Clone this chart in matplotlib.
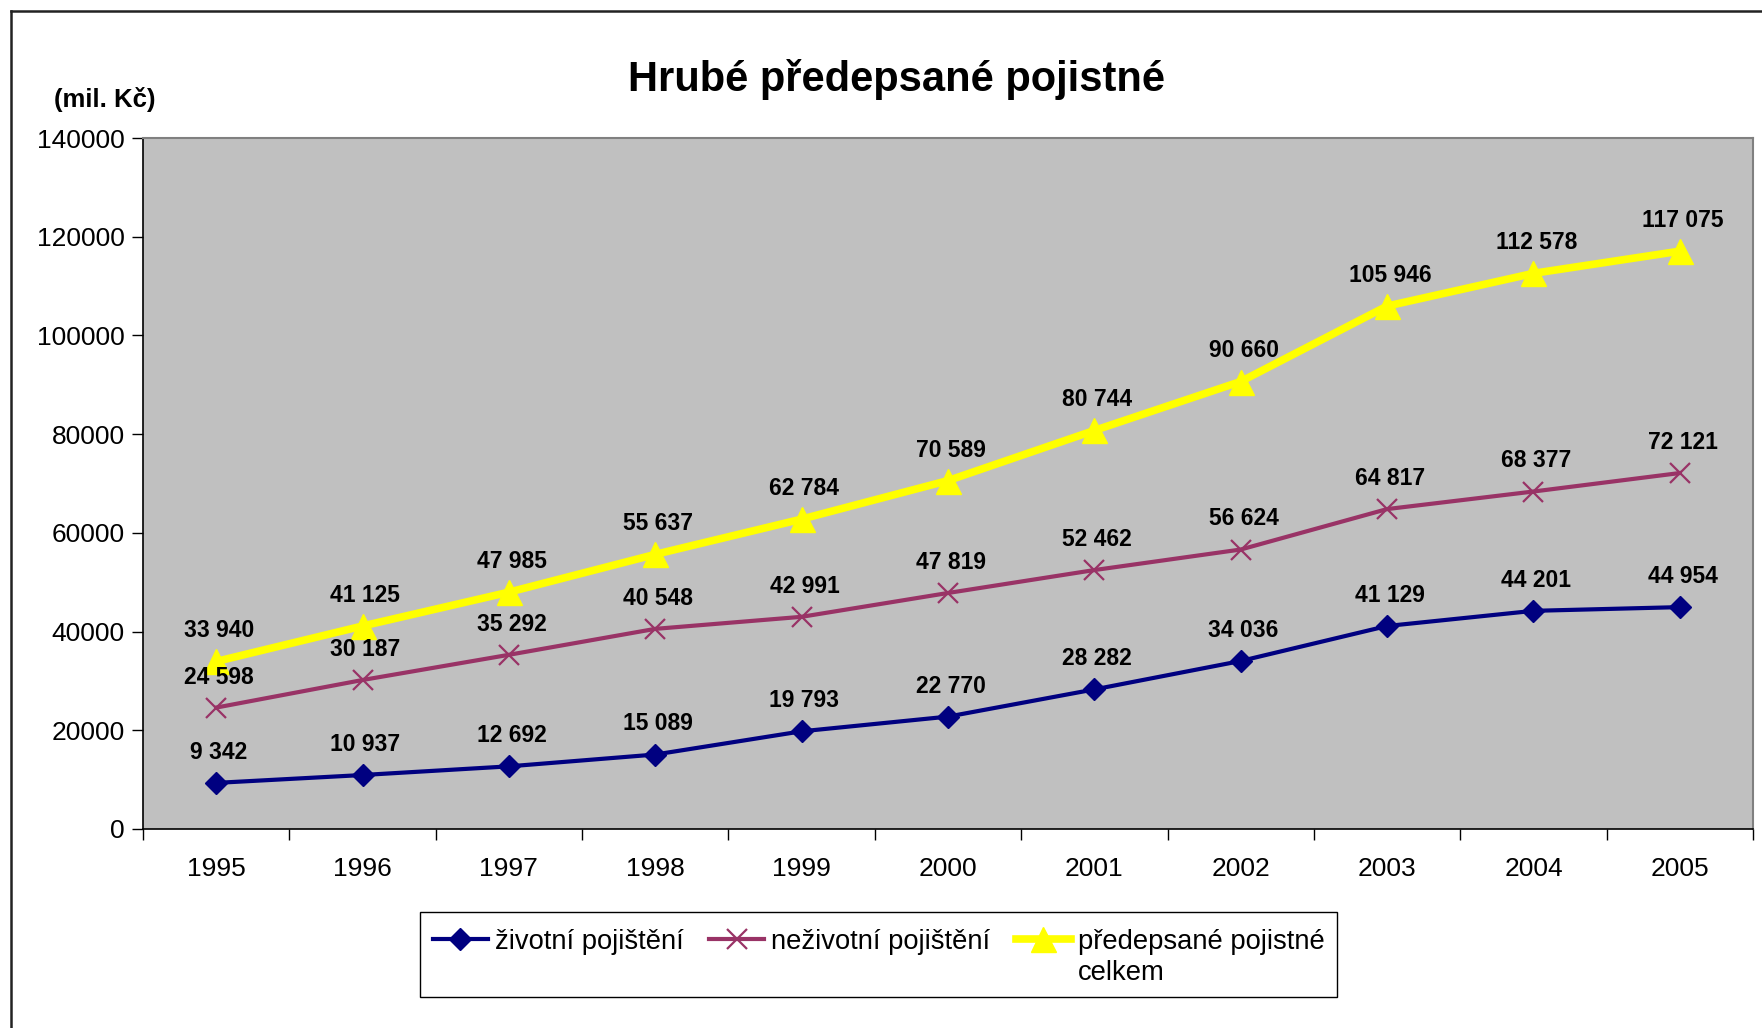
import matplotlib.pyplot as plt
from matplotlib.lines import Line2D
from matplotlib.patches import Rectangle

plt.rcParams['font.family'] = ['Liberation Sans', 'DejaVu Sans']

# ===== data =====
years = ['1995', '1996', '1997', '1998', '1999', '2000', '2001', '2002', '2003', '2004', '2005']
zivotni = [9342, 10937, 12692, 15089, 19793, 22770, 28282, 34036, 41129, 44201, 44954]
nezivotni = [24598, 30187, 35292, 40548, 42991, 47819, 52462, 56624, 64817, 68377, 72121]
celkem = [33940, 41125, 47985, 55637, 62784, 70589, 80744, 90660, 105946, 112578, 117075]

series_names = ['životní pojištění', 'neživotní pojištění', 'předepsané pojistné']

W, H = 1762, 1028
fig = plt.figure(figsize=(W / 100, H / 100), dpi=100)
ax = fig.add_axes([143 / W, 1 - 829 / H, (1753 - 143) / W, (829 - 138) / H])
ax.set_facecolor('#C0C0C0')

x = list(range(len(years)))

def fmt(v):
    return f'{v:,}'.replace(',', ' ')

l1, = ax.plot(x, zivotni, color='#000080', lw=3, marker='D', ms=11, zorder=3)
l2, = ax.plot(x, nezivotni, color='#993366', lw=3, marker='x', ms=14, mew=1.6, zorder=3)
l3, = ax.plot(x, celkem, color='#FFFF00', lw=5.5, marker='^', ms=18, zorder=3)

for vals in (zivotni, nezivotni, celkem):
    for xi, v in zip(x, vals):
        ax.annotate(fmt(v), (xi, v), xytext=(2, 22), textcoords='offset points',
                    ha='center', va='center', fontsize=16.5, fontweight='bold', zorder=4)

ax.set_xlim(-0.5, len(years) - 0.5)
ax.set_ylim(0, 140000)
ax.set_yticks(range(0, 140001, 20000))
ax.set_yticklabels([str(v) for v in range(0, 140001, 20000)])
ax.tick_params(axis='y', labelsize=19, length=8, width=1, pad=5)

# category labels between boundary ticks, like Excel
ax.set_xticks([i - 0.5 for i in range(len(years) + 1)])
ax.set_xticklabels([])
ax.set_xticks(x, minor=True)
ax.set_xticklabels(years, minor=True)
ax.tick_params(axis='x', which='major', length=8, width=1)
ax.tick_params(axis='x', which='minor', length=0, labelsize=19, pad=20)

for s in ('left', 'bottom'):
    ax.spines[s].set_color('black')
    ax.spines[s].set_linewidth(1.2)
for s in ('top', 'right'):
    ax.spines[s].set_color('#808080')
    ax.spines[s].set_linewidth(1.5)

fig.text(896 / W, 1 - 79 / H, 'Hrubé předepsané pojistné', ha='center', va='center',
         fontsize=30, fontweight='bold')
fig.text(54 / W, 1 - 100 / H, '(mil. Kč)', ha='left', va='center', fontsize=18.5, fontweight='bold')

# outer chart border (only left and top visible)
fig.add_artist(Line2D([11 / W, 11 / W], [0, 1 - 11 / H], transform=fig.transFigure, color='#222222', lw=1.8))
fig.add_artist(Line2D([11 / W, 1], [1 - 11 / H, 1 - 11 / H], transform=fig.transFigure, color='#222222', lw=1.8))

# legend
leg = fig.legend([l1, l2, l3], series_names, loc='upper left', ncol=3,
                 bbox_to_anchor=(433 / W, 1 - 929 / H), bbox_transform=fig.transFigure,
                 frameon=False, fontsize=19.7, handlelength=2.0, handletextpad=0.25,
                 columnspacing=0.95, borderpad=0, borderaxespad=0)
fig.add_artist(Rectangle((420 / W, 1 - 997 / H), (1337 - 420) / W, (997 - 912) / H,
                         transform=fig.transFigure, fill=False, ec='black', lw=1))
fig.canvas.draw()
bb = leg.get_texts()[2].get_window_extent()
fig.text(bb.x0 / W, (bb.y0 + bb.y1) / 2 / H - 31 / H, 'celkem', ha='left', va='center', fontsize=19.7)

fig.savefig('out.png', dpi=100)
